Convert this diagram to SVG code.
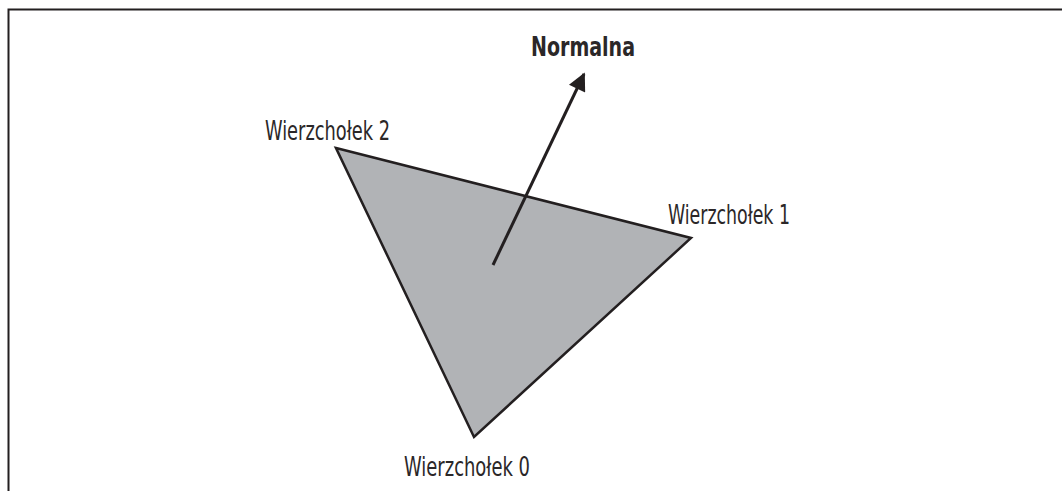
<svg xmlns="http://www.w3.org/2000/svg" width="1062" height="491" viewBox="0 0 1062 491">
  <style>
    .lbl { font-family: "DejaVu Sans Condensed", "Liberation Sans", sans-serif; font-size: 26px; fill: #2b2728; }
    .bold { font-weight: bold; font-size: 26px; }
    .edge { stroke: #231f20; fill: none; }
  </style>
  <defs>
    <marker id="head" viewBox="0 0 10 10" refX="9" refY="5" markerWidth="6.5" markerHeight="6" orient="auto" markerUnits="strokeWidth">
      <path d="M0,0 L10,5 L0,10 z" fill="#231f20"/>
    </marker>
  </defs>
  <rect width="1062" height="491" fill="#ffffff"/>
  <!-- frame: top and left rules -->
  <path class="edge" d="M8.5,491 V9.5 H1062" stroke-width="2"/>

  <g id="triangle">
    <polygon points="336,148 691,238 474,437" fill="#b1b3b6" stroke="#231f20" stroke-width="2.5" stroke-linejoin="miter"/>
  </g>

  <g id="connectors">
    <line class="edge" x1="493" y1="265" x2="584" y2="74" stroke-width="3" marker-end="url(#head)"/>
  </g>

  <g id="normal-label">
    <text class="lbl bold" x="531" y="56" textLength="104" lengthAdjust="spacingAndGlyphs">Normalna</text>
  </g>
  <g id="vertex-2">
    <text class="lbl" x="265" y="140" textLength="125" lengthAdjust="spacingAndGlyphs">Wierzchołek 2</text>
  </g>
  <g id="vertex-1">
    <text class="lbl" x="668" y="224" textLength="122" lengthAdjust="spacingAndGlyphs">Wierzchołek 1</text>
  </g>
  <g id="vertex-0">
    <text class="lbl" x="404" y="476" textLength="126" lengthAdjust="spacingAndGlyphs">Wierzchołek 0</text>
  </g>
</svg>
